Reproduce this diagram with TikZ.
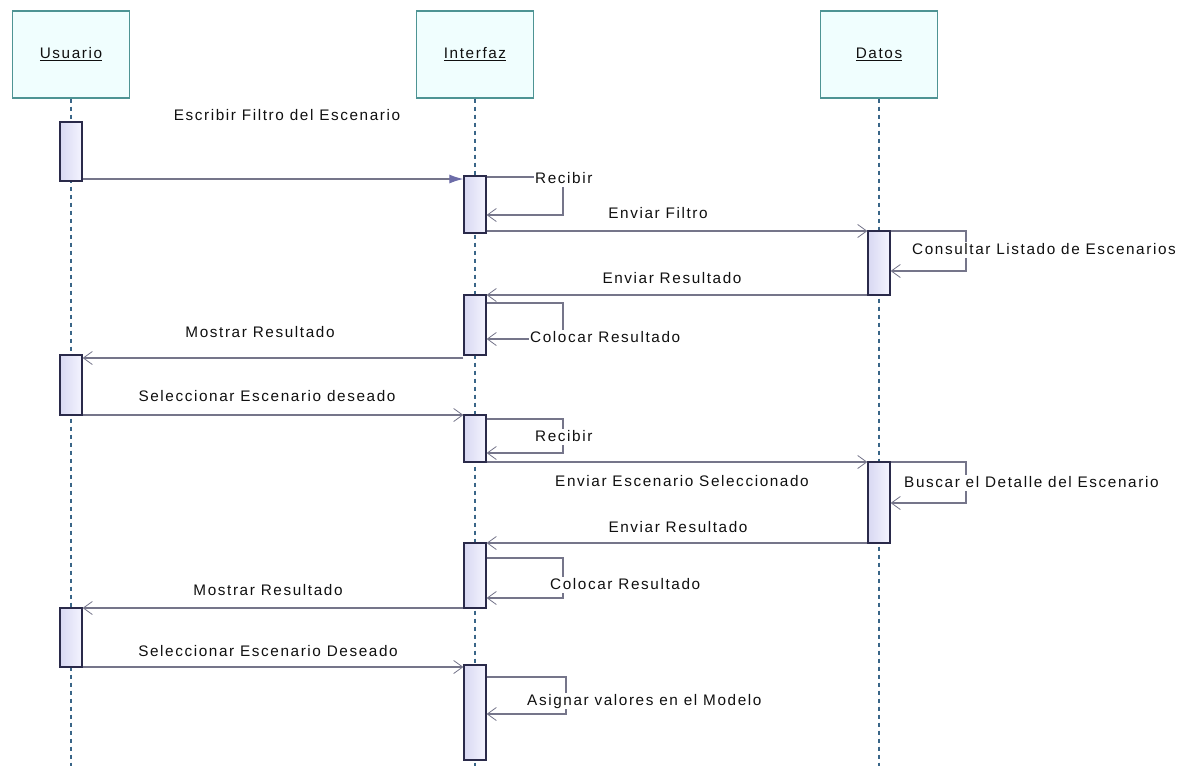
\documentclass[tikz,border=0pt]{standalone}
\usepackage{fontspec}
\setmainfont{Liberation Sans}[LetterSpace=10.5]
\usetikzlibrary{arrows.meta,calc}

\definecolor{boxedge}{HTML}{4E9494}
\definecolor{boxfill}{HTML}{F0FEFE}
\definecolor{lifeline}{HTML}{3A6688}
\definecolor{baredge}{HTML}{2A2A4A}
\definecolor{barleft}{HTML}{D8D8F2}
\definecolor{barright}{HTML}{F4F4FF}
\definecolor{msgline}{HTML}{75758A}
\definecolor{tipcol}{HTML}{6C6CA8}
\definecolor{txt}{HTML}{101010}

\tikzset{
  x=1pt, y=-1pt,
  txtfont/.style={font=\fontsize{15.3}{18}\selectfont, text=txt},
  headbox/.style={draw=boxedge, fill=boxfill, line width=1.4pt,
    minimum width=117pt, minimum height=87pt, inner sep=0pt, txtfont},
  actbar/.style={draw=baredge, line width=1.3pt, left color=barleft,
    right color=barright, minimum width=22pt, inner sep=0pt},
  life/.style={draw=lifeline, dash pattern=on 4pt off 4pt, line width=1.3pt},
  msg/.style={draw=msgline, line width=1.1pt,
    -{Straight Barb[length=9pt,width=13pt,line width=0.8pt]}},
  syncmsg/.style={draw=msgline, line width=1.1pt,
    -{Latex[length=14pt,width=9pt,fill=tipcol,color=tipcol]}},
  lbl/.style={txtfont, inner sep=1pt, text height=11pt, text depth=3pt},
  looplbl/.style={lbl, fill=white, anchor=west},
}

\begin{document}
\begin{tikzpicture}
\useasboundingbox (0,0) rectangle (1197,766);
\fill[white] (0,0) rectangle (1197,766);

% participants
\node[headbox] (hu) at (71,54.5) {\underline{Usuario}};
\node[headbox] (hi) at (475,54.5) {\underline{Interfaz}};
\node[headbox] (hd) at (879,54.5) {\underline{Datos}};

% lifelines
\draw[life] (hu.south) -- (hu.south |- 0,766);
\draw[life] (hi.south) -- (hi.south |- 0,766);
\draw[life] (hd.south) -- (hd.south |- 0,766);

% activation bars
\node[actbar, minimum height=59pt] (u1) at (71,151.5) {};
\node[actbar, minimum height=60pt] (u2) at (71,385) {};
\node[actbar, minimum height=59pt] (u3) at (71,637.5) {};
\node[actbar, minimum height=57pt] (i1) at (475,204.5) {};
\node[actbar, minimum height=60pt] (i2) at (475,325) {};
\node[actbar, minimum height=47pt] (i3) at (475,438.5) {};
\node[actbar, minimum height=65pt] (i4) at (475,575.5) {};
\node[actbar, minimum height=95pt] (i5) at (475,712.5) {};
\node[actbar, minimum height=64pt] (d1) at (879,263) {};
\node[actbar, minimum height=81pt] (d2) at (879,502.5) {};

% messages between lifelines
\draw[syncmsg] (u1.east |- 0,179) -- (i1.west |- 0,179);
\draw[msg] (i1.east |- 0,231) -- (d1.west |- 0,231);
\draw[msg] (d1.west |- 0,295) -- (i2.east |- 0,295);
\draw[msg] (i2.west |- 0,358) -- (u2.east |- 0,358);
\draw[msg] (u2.east |- 0,415) -- (i3.west |- 0,415);
\draw[msg] (i3.east |- 0,462) -- (d2.west |- 0,462);
\draw[msg] (d2.west |- 0,543) -- (i4.east |- 0,543);
\draw[msg] (i4.west |- 0,608) -- (u3.east |- 0,608);
\draw[msg] (u3.east |- 0,667) -- (i5.west |- 0,667);

% self calls
\draw[msg] (i1.east |- 0,177) -| (563,215) -- (i1.east |- 0,215);
\draw[msg] (d1.east |- 0,231) -| (966,271) -- (d1.east |- 0,271);
\draw[msg] (i2.east |- 0,303) -| (563,339) -- (i2.east |- 0,339);
\draw[msg] (i3.east |- 0,419) -| (563,453) -- (i3.east |- 0,453);
\draw[msg] (d2.east |- 0,462) -| (966,503) -- (d2.east |- 0,503);
\draw[msg] (i4.east |- 0,558) -| (563,598) -- (i4.east |- 0,598);
\draw[msg] (i5.east |- 0,677) -| (566,714) -- (i5.east |- 0,714);

% message labels
\node[lbl] (m1) at (287,116) {Escribir Filtro del Escenario};
\node[lbl] (m3) at (658,214) {Enviar Filtro};
\node[lbl] (m5) at (672,279) {Enviar Resultado};
\node[lbl] (m7) at (260,333) {Mostrar Resultado};
\node[lbl] (m8) at (267,397) {Seleccionar Escenario deseado};
\node[lbl] (m10) at (682,482) {Enviar Escenario Seleccionado};
\node[lbl] (m12) at (678,528) {Enviar Resultado};
\node[lbl] (m14) at (268,591) {Mostrar Resultado};
\node[lbl] (m15) at (268,652) {Seleccionar Escenario Deseado};

% self call labels
\node[looplbl] (s1) at (534,179) {Recibir};
\node[looplbl] (s2) at (911,250) {Consultar Listado de Escenarios};
\node[looplbl] (s3) at (529,338) {Colocar Resultado};
\node[looplbl] (s4) at (534,437) {Recibir};
\node[looplbl] (s5) at (903,483) {Buscar el Detalle del Escenario};
\node[looplbl] (s6) at (549,585) {Colocar Resultado};
\node[looplbl] (s7) at (526,701) {Asignar valores en el Modelo};
\end{tikzpicture}
\end{document}
